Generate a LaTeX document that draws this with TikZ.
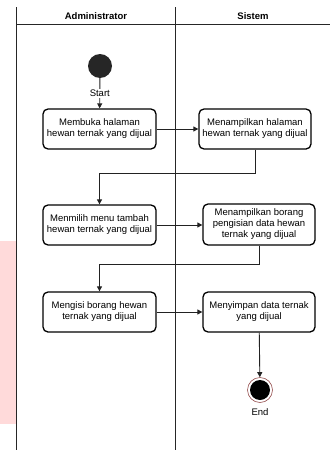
\documentclass[tikz,border=0pt]{standalone}
\usepackage{fontspec}
\setmainfont{Liberation Sans}
\usetikzlibrary{arrows.meta, positioning, calc}
\definecolor{edgegray}{RGB}{34, 34, 34}
\definecolor{notepink}{RGB}{255, 218, 218}
\definecolor{endred}{RGB}{150, 80, 80}

\begin{document}
\begin{tikzpicture}[x=1pt, y=-1pt,
        >={Triangle[length=5pt, width=5pt]},
        every node/.style={font=\fontsize{9.5}{11}\selectfont},
        activity/.style={draw, rounded corners=5pt, line width=1.3pt, align=center,
            minimum width=113pt, minimum height=40pt, inner sep=1pt},
        flow/.style={->, draw=edgegray, line width=0.9pt},
        lane/.style={draw=black!85, line width=0.9pt}]

        \useasboundingbox (0,0) rectangle (330,450);

        % Pink strip on the left
        \fill[notepink] (0,241) rectangle (16,424);

        % Swimlanes
        \draw[lane] (16,7) -- (16,450);
        \draw[lane] (175.5,7) -- (175.5,450);
        \draw[lane] (16,24) -- (330,24);
        \node[font=\fontsize{9.5}{11}\selectfont\bfseries] (adminlane) at (96,16) {Administrator};
        \node[font=\fontsize{9.5}{11}\selectfont\bfseries] (sistemlane) at (253,16) {Sistem};

        % Start and end
        \node[circle, fill=black!85, minimum size=24pt, inner sep=0pt] (start) at (100,66) {};
        \node[circle, draw=endred, line width=0.6pt, minimum size=25pt, inner sep=0pt] (end) at (260,390) {};
        \node[circle, fill=black, minimum size=20pt, inner sep=0pt] at (end) {};
        \node[below=2pt of end] (endlabel) {End};

        % Activities
        \node[activity] (buka) at (99.5,129) {Membuka halaman\\hewan ternak yang dijual};
        \node[activity, minimum width=112pt] (tampil) at (255,129) {Menampilkan halaman\\hewan ternak yang dijual};
        \node[activity] (pilih) at (99.5,225) {Menmilih menu tambah\\hewan ternak yang dijual};
        \node[activity, minimum width=112pt, minimum height=41pt] (borang) at (259,224.5) {Menampilkan borang\\pengisian data hewan\\ternak yang dijual};
        \node[activity] (isi) at (99.5,312) {Mengisi borang hewan\\ternak yang dijual};
        \node[activity, minimum width=112pt] (simpan) at (259,312) {Menyimpan data ternak\\yang dijual};

        % Flows
        \draw[flow] (start) -- node[fill=white, inner sep=1pt] {Start} (buka);
        \draw[flow] (buka) -- (tampil);
        \draw[flow] (tampil.south) -- ++(0,24) -| (pilih.north);
        \draw[flow] (pilih) -- (borang.west |- pilih.east);
        \draw[flow] (borang.south) -- ++(0,18.5) -| (isi.north);
        \draw[flow] (isi) -- (simpan);
        \draw[flow] (simpan) -- (end);

\end{tikzpicture}
\end{document}
